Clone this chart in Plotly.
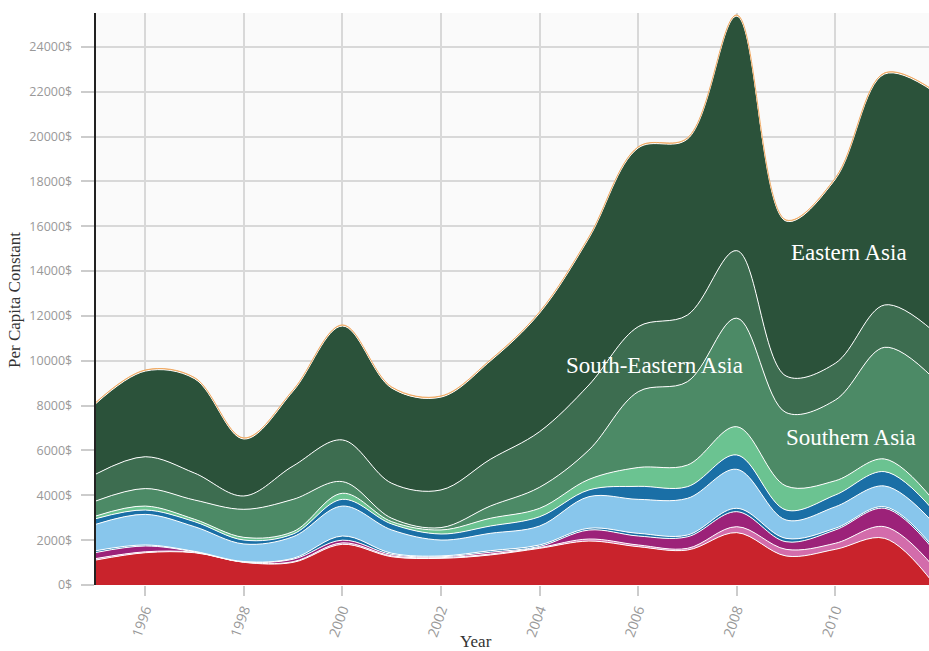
import plotly.graph_objects as go

years = list(range(1995, 2013))

# layer values (bottom to top), Per Capita Constant $
red_vals = [1115, 1440, 1440, 1010, 1010, 1815, 1260, 1190, 1340, 1635, 1960, 1710, 1560, 2335, 1295, 1590, 2080, 50]
pink_vals = [65, 40, 20, 10, 30, 65, 40, 30, 40, 35, 90, 75, 75, 265, 295, 270, 520, 750]
magenta_vals = [270, 260, 20, 10, 110, 120, 60, 40, 80, 50, 400, 400, 515, 670, 340, 595, 820, 750]
thin_blue_vals = [80, 45, 20, 15, 40, 185, 55, 35, 70, 65, 80, 120, 80, 150, 150, 75, 70, 100]
light_blue_vals = [1180, 1365, 1100, 785, 965, 1335, 1040, 710, 775, 845, 1410, 1515, 1635, 1740, 820, 960, 925, 1100]
dark_blue_vals = [250, 195, 225, 175, 120, 300, 265, 270, 325, 415, 300, 580, 520, 640, 445, 525, 640, 550]
light_green_vals = [120, 175, 105, 120, 105, 270, 105, 180, 345, 375, 470, 840, 965, 1260, 1070, 635, 565, 450]
southern_vals = [670, 780, 860, 1250, 1440, 520, 150, 105, 545, 940, 1310, 3380, 3720, 4840, 3275, 3600, 4980, 5450]
south_eastern_vals = [1200, 1420, 1200, 595, 1490, 1860, 1560, 1680, 2085, 2480, 2900, 2900, 2970, 3010, 1630, 1640, 1890, 2100]
eastern_vals = [3150, 3820, 4210, 2540, 3340, 5080, 4245, 4140, 4385, 5290, 6550, 7970, 7850, 10460, 6910, 8210, 10300, 10700]
orange_vals = [50] * 18

y_tick_vals = list(range(0, 26000, 2000))
y_tick_text = [f"{v}$" for v in y_tick_vals]
x_tick_vals = list(range(1996, 2013, 2))

layers = [
    ("Red", red_vals, "#c9232c"),
    ("Pink", pink_vals, "#d36cab"),
    ("Magenta", magenta_vals, "#9c2279"),
    ("Thin blue", thin_blue_vals, "#1a6fa6"),
    ("Light blue", light_blue_vals, "#88c6ec"),
    ("Dark blue", dark_blue_vals, "#1a6fa6"),
    ("Light green", light_green_vals, "#6bc391"),
    ("Southern Asia", southern_vals, "#4c8a66"),
    ("South-Eastern Asia", south_eastern_vals, "#3d6d50"),
    ("Eastern Asia", eastern_vals, "#2b523a"),
    ("Top", orange_vals, "#f0a860"),
]

fig = go.Figure()
for name, vals, col in layers:
    lc = "white" if name != "Top" else "#f0a860"
    fig.add_trace(go.Scatter(
        x=years, y=vals, name=name, mode="lines",
        stackgroup="one", fillcolor=col,
        line=dict(color=lc, width=1, shape="spline", smoothing=1.0),
        hoverinfo="x+y+name",
    ))

label_font = dict(family="Liberation Serif, serif", size=23, color="white")
fig.add_annotation(x=2010.27, y=14850, text="Eastern Asia", showarrow=False, font=label_font)
fig.add_annotation(x=2006.34, y=9770, text="South-Eastern Asia", showarrow=False, font=label_font)
fig.add_annotation(x=2010.31, y=6600, text="Southern Asia", showarrow=False, font=label_font)

title_font = dict(family="Liberation Serif, serif", size=17, color="#333333")
fig.add_annotation(xref="paper", yref="paper", x=(476 - 96) / 833, y=(585 - 641) / 572,
                   yanchor="middle", xanchor="center", text="Year", showarrow=False, font=title_font)
fig.add_annotation(xref="paper", yref="paper", x=-(96 - 14) / 833, y=(585 - 300) / 572,
                   xanchor="center", yanchor="middle", textangle=-90,
                   text="Per Capita Constant", showarrow=False, font=title_font)

fig.update_layout(
    width=929, height=651,
    margin=dict(l=96, r=0, t=13, b=66, autoexpand=False),
    paper_bgcolor="white", plot_bgcolor="#fafafa",
    showlegend=False,
    font=dict(family="Open Sans, sans-serif", color="#999999", size=12),
)
fig.update_xaxes(
    range=[1995, 2011.9], tickvals=x_tick_vals, tickangle=-70,
    showgrid=True, gridcolor="#d8d8d8", gridwidth=1.5,
    ticks="outside", ticklen=10, tickcolor="#cccccc", tickwidth=1.5,
    tickfont=dict(size=14, color="#999999"),
    showline=False, zeroline=False, automargin=False,
)
fig.update_yaxes(
    range=[0, 25510], tickvals=y_tick_vals,
    ticktext=[t + "\u00a0\u00a0" for t in y_tick_text],
    showgrid=True, gridcolor="#d8d8d8", gridwidth=1.5,
    ticks="outside", ticklen=13, tickcolor="#cccccc", tickwidth=1.5,
    tickfont=dict(size=12.5, color="#999999"),
    showline=True, linecolor="#222222", linewidth=1.5, zeroline=False, automargin=False,
)

fig.write_html("out.html", config={"displayModeBar": False},
               post_script="document.body.style.margin='0';document.body.style.overflow='hidden';")
